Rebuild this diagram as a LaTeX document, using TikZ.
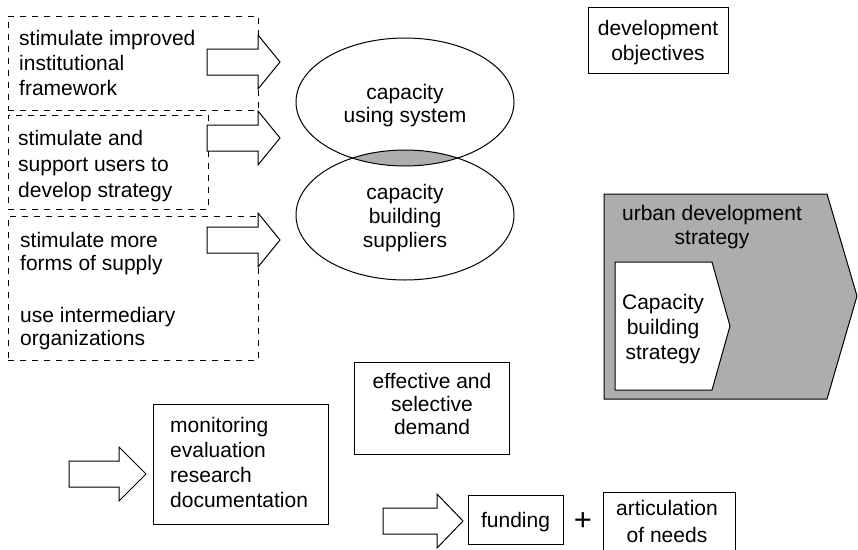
\documentclass[tikz,border=0pt]{standalone}
\usepackage{fontspec}
\setmainfont{Liberation Sans}
\usetikzlibrary{shapes.geometric}
\begin{document}
\begin{tikzpicture}[x=1pt,y=-1pt,
  every node/.style={font=\fontsize{21}{25}\selectfont, inner sep=0pt},
  dashbox/.style={draw, rectangle, dash pattern=on 6pt off 6pt, line width=0.9pt},
  solidbox/.style={draw, rectangle, line width=1pt},
  txt/.style={align=left, anchor=base west},
  ctxt/.style={align=center, anchor=base},
  barrow/.style={draw, line width=1pt, fill=white, line join=miter},
  shadefill/.style={fill=black!32},
  oval/.style={draw, ellipse, line width=1pt}]
\useasboundingbox (0,0) rectangle (858,549);

% dashed boxes
\node[dashbox, minimum width=250pt, minimum height=94pt] (d1) at (133,63) {};
\node[dashbox, minimum width=200pt, minimum height=94pt] (d2) at (108,162) {};
\node[dashbox, minimum width=250pt, minimum height=144pt] (d3) at (133,288) {};

% (base anchor of a multi-line node = baseline of its last line)
\node[txt] (t1) at (19,95) {stimulate improved\\institutional\\framework};
\node[txt, font=\fontsize{21}{26}\selectfont] (t2) at (18,197) {stimulate and\\support users to\\develop strategy};
\node[txt, font=\fontsize{21}{23}\selectfont] (t3) at (20,270) {stimulate more\\forms of supply};
\node[txt, font=\fontsize{21}{23}\selectfont] (t4) at (20,345) {use intermediary\\organizations};

% block arrows
\draw[barrow] (207,49) -- (258,49) -- (258,35) -- (280,62) -- (258,89) -- (258,75) -- (207,75) -- cycle;
\draw[barrow] (207,125) -- (258,125) -- (258,111) -- (280,138) -- (258,165) -- (258,151) -- (207,151) -- cycle;
\draw[barrow] (207,227) -- (258,227) -- (258,213) -- (280,240) -- (258,267) -- (258,253) -- (207,253) -- cycle;
\draw[barrow] (69,461) -- (119,461) -- (119,447) -- (146,474) -- (119,501) -- (119,487) -- (69,487) -- cycle;
\draw[barrow] (383,508) -- (437,508) -- (437,494) -- (463,521) -- (437,548) -- (437,534) -- (383,534) -- cycle;

% lens between the ellipses
\begin{scope}
  \clip (405,102) ellipse [x radius=109pt, y radius=64pt];
  \fill[shadefill] (405,215) ellipse [x radius=109pt, y radius=65pt];
\end{scope}
\node[oval, minimum width=218pt, minimum height=128pt] (e1) at (405,102) {};
\node[oval, minimum width=218pt, minimum height=130pt] (e2) at (405,215) {};
\node[ctxt, font=\fontsize{21}{23}\selectfont] (e1t) at (405,122) {capacity\\using system};
\node[ctxt, font=\fontsize{21}{24}\selectfont] (e2t) at (405,247) {capacity\\building\\suppliers};

% development objectives
\node[solidbox, minimum width=140pt, minimum height=66pt] (dev) at (658,40) {};
\node[ctxt] (devt) at (658,60) {development\\objectives};

% urban development strategy
\draw[line width=1pt, shadefill] (604,194) -- (827,194) -- (857,296) -- (827,399) -- (604,399) -- cycle;
\node[ctxt, font=\fontsize{21}{24}\selectfont] (urb) at (712,244) {urban development\\strategy};
\draw[line width=1pt, fill=white] (615,262) -- (712,262) -- (730,326) -- (712,390) -- (615,390) -- cycle;
\node[ctxt] (cbs) at (663,359) {Capacity\\building\\strategy};

% effective and selective demand
\node[solidbox, minimum width=155pt, minimum height=92pt] (eff) at (432,408) {};
\node[ctxt, font=\fontsize{21}{23}\selectfont] (efft) at (432,434) {effective and\\selective\\demand};

% monitoring
\node[solidbox, minimum width=175pt, minimum height=120pt] (mon) at (240.5,464) {};
\node[txt] (mont) at (170,507) {monitoring\\evaluation\\research\\documentation};

% funding + articulation
\node[solidbox, minimum width=95pt, minimum height=49pt] (fund) at (515.5,519.5) {};
\node[ctxt] (fundt) at (515.5,527) {funding};
\node[font=\fontsize{31}{32}\selectfont] (plus) at (583,522) {+};
\node[solidbox, minimum width=132pt, minimum height=62pt] (art) at (669,523) {};
\node[ctxt, font=\fontsize{21}{27}\selectfont] (artt) at (667,542) {articulation\\of needs};
\end{tikzpicture}
\end{document}
